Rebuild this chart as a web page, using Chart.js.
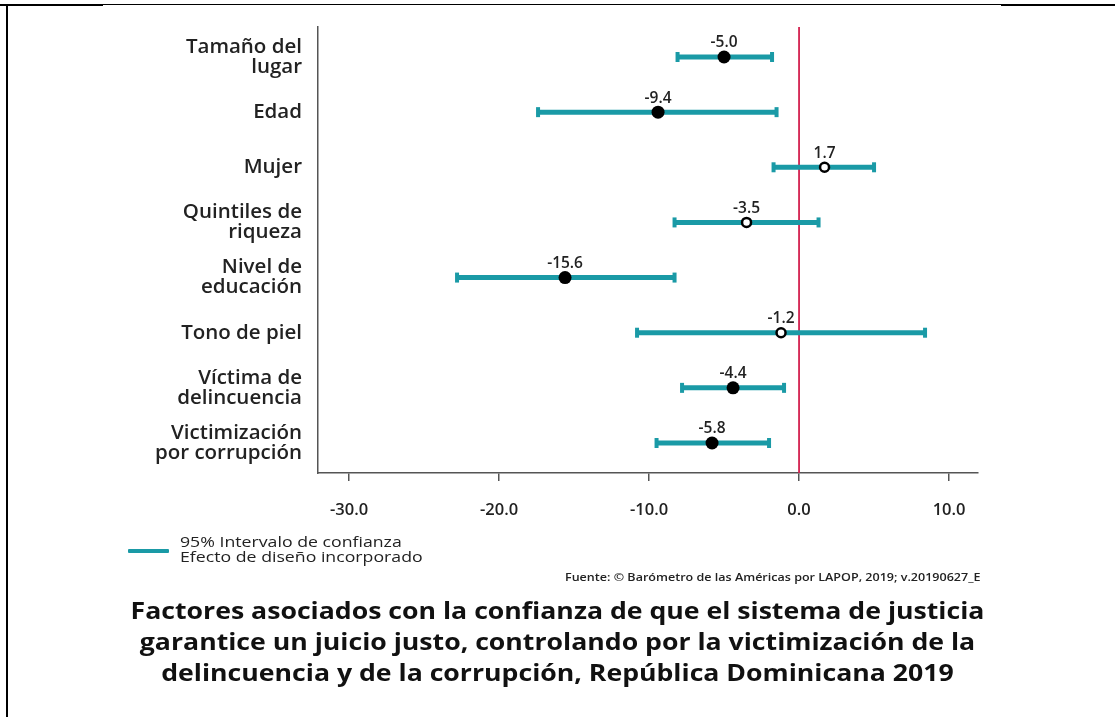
<!DOCTYPE html>
<html>
<head>
<meta charset="utf-8">
<script src="https://cdn.jsdelivr.net/npm/chart.js@4.4.1/dist/chart.umd.min.js"></script>
<style>
  html, body { margin: 0; padding: 0; background: #fff; }
  body { width: 1115px; height: 717px; position: relative; overflow: hidden; font-family: "Open Sans", sans-serif; }
  #wrap { position: absolute; left: 0; top: 0; width: 1115px; height: 717px; }
  .ln { position: absolute; background: #000; }
  #legend-line { position: absolute; left: 128px; top: 549px; width: 41px; height: 4px; background: #1a9aa6; border-radius: 1px; }
  #legend-text { position: absolute; left: 180px; top: 534px; font-size: 15px; line-height: 15px; color: #222; transform: scaleX(1.18); transform-origin: left center; white-space: nowrap; }
  #source { position: absolute; right: 134px; top: 570px; font-size: 11px; font-weight: 600; color: #222; white-space: nowrap; line-height: 14px; transform: scaleX(1.14); transform-origin: right center; }
  #title { position: absolute; left: 0; top: 595px; width: 1115px; text-align: center; font-size: 22.4px; font-weight: 700; line-height: 31px; color: #111; transform: scaleX(1.19); transform-origin: 557.5px 50%; }
</style>
</head>
<body>
<div class="ln" style="left:0;top:4px;width:103px;height:2px;"></div>
<div class="ln" style="left:6px;top:4px;width:995px;height:1px;"></div>
<div class="ln" style="left:1001px;top:4px;width:114px;height:2px;"></div>
<div class="ln" style="left:6px;top:4px;width:2px;height:713px;"></div>
<div id="wrap"><canvas id="c" width="1115" height="717"></canvas></div>
<div id="legend-line"></div>
<div id="legend-text">95% Intervalo de confianza<br>Efecto de diseño incorporado</div>
<div id="source">Fuente: © Barómetro de las Américas por LAPOP, 2019; v.20190627_E</div>
<div id="title">Factores asociados con la confianza de que el sistema de justicia<br>garantice un juicio justo, controlando por la victimización de la<br>delincuencia y de la corrupción, República Dominicana 2019</div>
<script>
// ---- data ----
const categories = [
  ["Tamaño del", "lugar"],
  ["Edad"],
  ["Mujer"],
  ["Quintiles de", "riqueza"],
  ["Nivel de", "educación"],
  ["Tono de piel"],
  ["Víctima de", "delincuencia"],
  ["Victimización", "por corrupción"]
];
const estimates = [-5.0, -9.4, 1.7, -3.5, -15.6, -1.2, -4.4, -5.8];
const lower = [-8.1, -17.4, -1.7, -8.3, -22.8, -10.8, -7.8, -9.5];
const upper = [-1.8, -1.5, 5.0, 1.3, -8.3, 8.4, -1.0, -2.0];
const xTicks = [-30, -20, -10, 0, 10];
const xTickLabels = ["-30.0", "-20.0", "-10.0", "0.0", "10.0"];

const TEAL = '#1a9aa6';
const positions = categories.map((c, i) => i + 1);
const significant = estimates.map((v, i) => upper[i] < 0 || lower[i] > 0);

const datasets = [];
datasets.push({
  type: 'scatter',
  label: 'est',
  order: 0,
  data: estimates.map((v, i) => ({ x: v, y: positions[i] })),
  pointRadius: significant.map(s => s ? 6.5 : 4.5),
  pointHoverRadius: significant.map(s => s ? 6.5 : 4.5),
  pointBackgroundColor: significant.map(s => s ? '#000' : '#fff'),
  pointBorderColor: '#000',
  pointBorderWidth: significant.map(s => s ? 0 : 2.5),
  clip: false
});
categories.forEach((c, i) => {
  datasets.push({
    type: 'line',
    label: 'ci' + i,
    order: 1,
    data: [{ x: lower[i], y: positions[i] }, { x: upper[i], y: positions[i] }],
    borderColor: TEAL,
    borderWidth: 5,
    borderCapStyle: 'butt',
    pointStyle: 'line',
    pointRotation: 90,
    pointRadius: 5,
    pointHoverRadius: 5,
    pointBorderWidth: 4,
    pointBorderColor: TEAL,
    pointBackgroundColor: TEAL,
    clip: false
  });
});

const zeroLine = {
  id: 'zeroLine',
  beforeDatasetsDraw(chart) {
    const { ctx, chartArea, scales } = chart;
    const x = scales.x.getPixelForValue(0);
    ctx.save();
    ctx.strokeStyle = '#d3204f';
    ctx.lineWidth = 1.8;
    ctx.beginPath();
    ctx.moveTo(x, chartArea.top);
    ctx.lineTo(x, chartArea.bottom);
    ctx.stroke();
    ctx.restore();
  }
};
const valueLabels = {
  id: 'valueLabels',
  afterDatasetsDraw(chart) {
    const { ctx, scales } = chart;
    ctx.save();
    ctx.font = '600 15.5px "Open Sans"';
    ctx.fillStyle = '#222';
    ctx.textAlign = 'center';
    ctx.textBaseline = 'middle';
    estimates.forEach((v, i) => {
      const x = scales.x.getPixelForValue(v);
      const y = scales.y.getPixelForValue(positions[i]);
      ctx.fillText(v.toFixed(1), x, y - 14);
    });
    ctx.restore();
  }
};

new Chart(document.getElementById('c'), {
  data: { datasets },
  options: {
    responsive: false,
    animation: false,
    devicePixelRatio: 1,
    layout: { padding: { left: 0, top: 27, right: 137, bottom: 184 } },
    plugins: { legend: { display: false }, tooltip: { enabled: false } },
    scales: {
      x: {
        type: 'linear',
        min: -32.07,
        max: 11.93,
        afterBuildTicks(scale) { scale.ticks = xTicks.map(v => ({ value: v })); },
        afterFit(scale) { scale.height = 60; scale.paddingLeft = 0; scale.paddingRight = 0; },
        grid: { display: true, drawOnChartArea: false, drawTicks: true, tickLength: 8, color: '#555', lineWidth: 1.5 },
        border: { display: true, color: '#555', width: 1.5 },
        ticks: {
          padding: 19,
          color: '#222',
          font: { family: 'Open Sans', size: 16.5, weight: '600' },
          callback: (v) => xTickLabels[xTicks.indexOf(v)],
          maxRotation: 0, autoSkip: false
        }
      },
      y: {
        type: 'linear',
        reverse: true,
        min: 0.456,
        max: 8.544,
        afterBuildTicks(scale) { scale.ticks = positions.map(v => ({ value: v })); },
        afterFit(scale) { scale.width = 318; scale.paddingTop = 0; scale.paddingBottom = 0; },
        grid: { display: false, drawTicks: false },
        border: { display: true, color: '#555', width: 1.5 },
        ticks: {
          padding: 16,
          color: '#222',
          font: { family: 'Open Sans', size: 20.5, weight: '600', lineHeight: 0.976 },
          callback: (v) => categories[positions.indexOf(v)],
          autoSkip: false
        }
      }
    }
  },
  plugins: [zeroLine, valueLabels]
});
</script>
</body>
</html>
